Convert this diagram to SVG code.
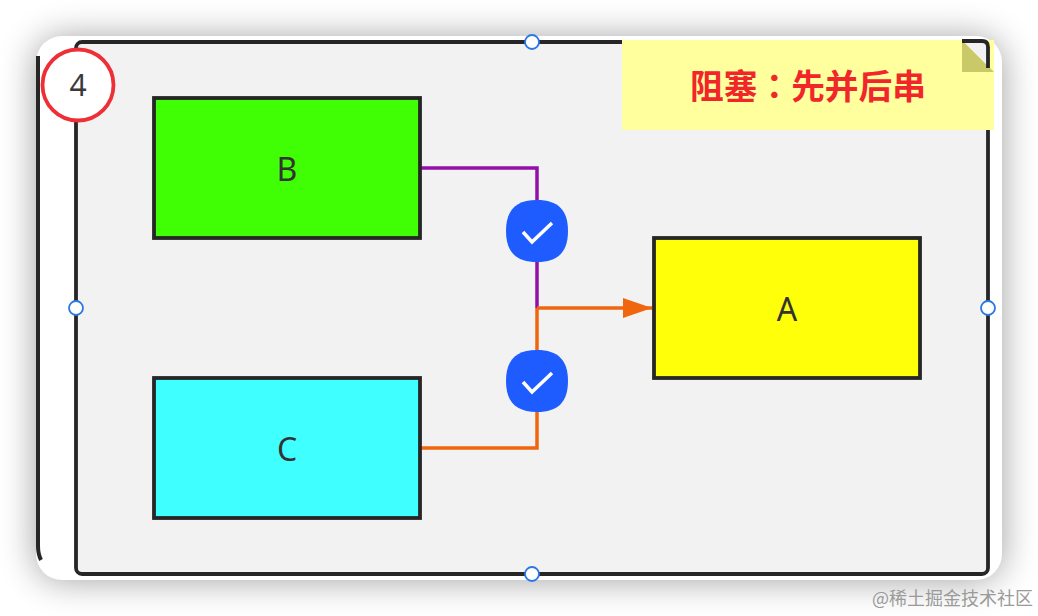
<svg xmlns="http://www.w3.org/2000/svg" width="1038" height="616" viewBox="0 0 1038 616">
<defs>
<filter id="sh" x="-10%" y="-15%" width="120%" height="130%"><feGaussianBlur stdDeviation="18"/></filter>
<marker id="arr" markerUnits="userSpaceOnUse" markerWidth="30" markerHeight="22" refX="29" refY="10" orient="auto"><path d="M0 0L29 10L0 20Z" fill="#f0660f"/></marker>
<path id="sq" d="M31 0C52 0 62 10 62 31C62 52 52 62 31 62C10 62 0 52 0 31C0 10 10 0 31 0Z"/>
</defs>
<style>
text{font-family:"Noto Sans","Open Sans","DejaVu Sans",sans-serif;fill:#333}
.box{stroke:#262626;stroke-width:3.800}
.lbl{font-size:32px;text-anchor:middle}
.c{fill:none;stroke-width:3.500}
.h{fill:#fff;stroke:#2a78e4;stroke-width:1.800}
.chk{fill:none;stroke:#fff;stroke-width:3.500}
.b{fill:#1f5cff}
</style>
<rect x="0" y="0" width="1038" height="616" fill="#fff"/>
<rect x="36" y="38" width="966" height="542" rx="26" fill="#000" opacity="0.38" filter="url(#sh)"/>
<rect x="36" y="36" width="966" height="544" rx="26" fill="#fff"/>
<path d="M38 56V546Q38 554 41 560" fill="none" stroke="#262626" stroke-width="4"/>
<g id="frame"><rect x="76" y="42" width="912" height="532" rx="6" fill="#f2f2f2" stroke="#262626" stroke-width="3.800"/>
<g class="h"><circle cx="532" cy="42" r="7"/><circle cx="532" cy="574" r="7"/><circle cx="76" cy="308" r="7"/><circle cx="988" cy="308" r="7"/></g></g>
<g id="connectors">
<path class="c" stroke="#9210a8" d="M421 168H537V308"/>
<path class="c" stroke="#f0660f" d="M421 448H537V308"/>
<path class="c" stroke="#f0660f" d="M537 308H652" marker-end="url(#arr)"/>
</g>
<g id="node-b"><rect class="box" x="154" y="98" width="266" height="140" fill="#40ff05"/><text class="lbl" x="287" y="181">B</text></g>
<g id="node-c"><rect class="box" x="154" y="378" width="266" height="140" fill="#40ffff"/><text class="lbl" x="287" y="461">C</text></g>
<g id="node-a"><rect class="box" x="654" y="238" width="266" height="140" fill="#ffff0a"/><text class="lbl" x="787" y="321">A</text></g>
<g id="check-1"><use href="#sq" class="b" x="506" y="200"/><path class="chk" d="M523 232L532 242L552 223"/></g>
<g id="check-2"><use href="#sq" class="b" x="506" y="350"/><path class="chk" d="M523 382L532 392L552 373"/></g>
<g id="badge"><circle cx="78" cy="85" r="35.500" fill="#fff" stroke="#ee2f36" stroke-width="3.800"/><text x="78" y="96" font-size="30" text-anchor="middle" style="fill:#3a3a3a">4</text></g>
<g id="note"><path d="M622 40H994V130H622Z" fill="#ffff9e"/><path d="M962 40L994 72H962Z" fill="#c9c96a"/><path d="M962 40H984Q988 40 988 46V66Z" fill="#f2f2f2"/><path d="M962 41H982Q988 41 988 47V68" fill="none" stroke="#262626" stroke-width="3.800"/>
<text x="808" y="99" font-size="33.700" font-weight="700" text-anchor="middle" style="fill:#f0262a;font-family:'Noto Sans CJK TC','Noto Sans CJK SC',sans-serif">阻塞：先并后串</text></g>
<text x="872" y="605" font-size="18" style="fill:#9a9a9a;font-family:'Noto Sans CJK SC',sans-serif">@稀土掘金技术社区</text>
</svg>
